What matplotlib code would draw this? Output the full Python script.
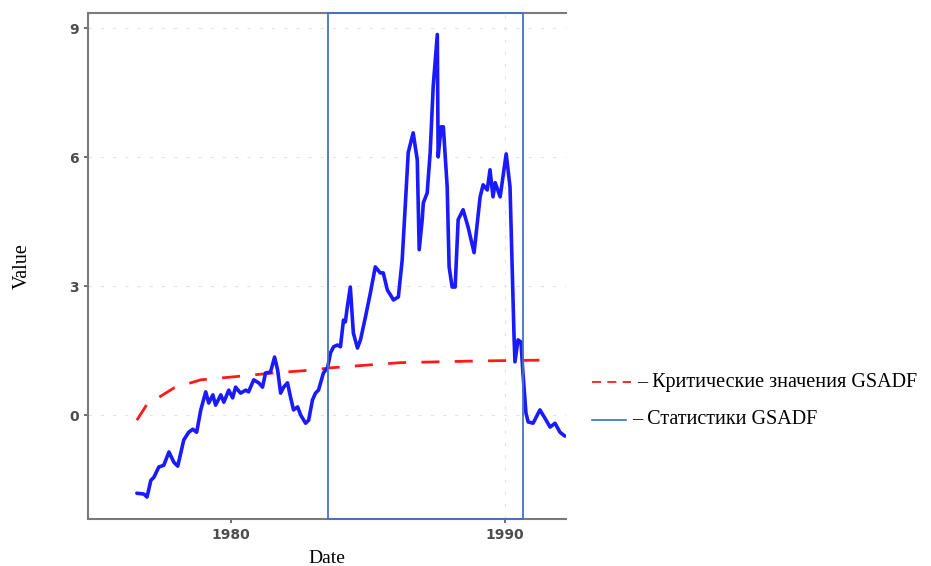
import numpy as np
import matplotlib
matplotlib.use('Agg')
import matplotlib.pyplot as plt
from matplotlib.lines import Line2D
from matplotlib.patches import Rectangle

#### data
stat_x = [1976.58, 1976.84, 1976.95, 1977.09, 1977.20, 1977.38, 1977.56, 1977.75, 1977.93, 1978.07,
          1978.29, 1978.47, 1978.62, 1978.76, 1978.91, 1979.09, 1979.20, 1979.35, 1979.45, 1979.64,
          1979.75, 1979.93, 1980.07, 1980.18, 1980.36, 1980.55, 1980.65, 1980.84, 1981.02, 1981.16,
          1981.27, 1981.45, 1981.60, 1981.71, 1981.82, 1981.93, 1982.07, 1982.18, 1982.29, 1982.44,
          1982.55, 1982.73, 1982.84, 1982.98, 1983.09, 1983.20, 1983.38, 1983.53, 1983.64, 1983.75,
          1983.89, 1984.00, 1984.11, 1984.18, 1984.25, 1984.36, 1984.47, 1984.62, 1984.73, 1984.91,
          1985.09, 1985.27, 1985.45, 1985.56, 1985.71, 1985.82, 1985.93, 1986.11, 1986.25, 1986.36,
          1986.47, 1986.65, 1986.80, 1986.87, 1986.98, 1987.02, 1987.16, 1987.27, 1987.38, 1987.53,
          1987.56, 1987.67, 1987.75, 1987.89, 1987.96, 1988.07, 1988.18, 1988.29, 1988.47, 1988.65,
          1988.87, 1989.09, 1989.20, 1989.35, 1989.45, 1989.56, 1989.64, 1989.82, 1990.04, 1990.18,
          1990.29, 1990.33, 1990.36, 1990.47, 1990.58, 1990.65, 1990.76, 1990.84, 1991.02, 1991.27,
          1991.45, 1991.64, 1991.82, 1992.00, 1992.18]
stat_y = [-1.82, -1.84, -1.91, -1.52, -1.45, -1.21, -1.17, -0.86, -1.10, -1.19,
          -0.58, -0.40, -0.33, -0.40, 0.12, 0.54, 0.28, 0.47, 0.23, 0.47,
          0.30, 0.58, 0.40, 0.65, 0.51, 0.58, 0.54, 0.82, 0.75, 0.65,
          0.98, 1.00, 1.35, 1.05, 0.51, 0.65, 0.75, 0.42, 0.12, 0.19,
          0.00, -0.19, -0.12, 0.35, 0.51, 0.58, 0.98, 1.10, 1.45, 1.59,
          1.63, 1.59, 2.21, 2.17, 2.52, 2.98, 1.91, 1.56, 1.75, 2.28,
          2.84, 3.45, 3.31, 3.31, 2.91, 2.80, 2.68, 2.75, 3.61, 4.85,
          6.11, 6.57, 5.94, 3.85, 4.55, 4.94, 5.17, 6.11, 7.65, 8.86,
          6.01, 6.71, 6.71, 5.31, 3.45, 2.98, 2.98, 4.55, 4.78, 4.38,
          3.78, 5.08, 5.36, 5.24, 5.71, 5.08, 5.41, 5.08, 6.08, 5.31,
          2.68, 1.75, 1.24, 1.75, 1.70, 0.98, 0.05, -0.16, -0.19, 0.12,
          -0.07, -0.28, -0.19, -0.40, -0.49]

crit_x = [1976.58, 1976.98, 1977.35, 1977.93, 1978.91, 1980.11, 1981.56, 1983.02, 1983.64,
          1986.18, 1989.09, 1991.53]
crit_y = [-0.12, 0.28, 0.40, 0.63, 0.82, 0.89, 0.98, 1.05, 1.10, 1.22, 1.26, 1.28]

bubble = (1983.53, 1990.65)   # box around the bubble period
yticks = [0, 3, 6, 9]
xticks = [1980, 1990]
legend_labels = ['– Критические значения GSADF', '– Статистики GSADF']

serif = ['Liberation Serif', 'DejaVu Serif']

fig = plt.figure(figsize=(9.31, 5.66), dpi=100)
ax = fig.add_axes([88/931, 47/566, (566-88)/931, (519-13)/566])

ax.plot(crit_x, crit_y, color='#ff1a1a', lw=2.0, dashes=(6.5, 5.5))
ax.plot(stat_x, stat_y, color='#1a1aff', lw=2.6, solid_joinstyle='round', solid_capstyle='round')

ax.set_xlim(1974.8, 1992.22)
ax.set_ylim(-2.42, 9.36)

ylo, yhi = ax.get_ylim()
ax.add_patch(Rectangle((bubble[0], ylo), bubble[1]-bubble[0], yhi-ylo,
                       fill=False, edgecolor='#4472c4', lw=1.3, zorder=5, clip_on=False))

# faint grid
for yt in yticks:
  ax.axhline(yt, color='#e4e4e4', lw=0.8, dashes=(3, 8), zorder=0)
ax.axvline(1990, color='#e4e4e4', lw=0.8, dashes=(3, 8), zorder=0)

ax.set_xticks(xticks)
ax.set_yticks(yticks)
ax.tick_params(direction='out', length=3, width=1.2, color='#555555',
               labelcolor='#4d4d4d', labelsize=10)
for lab in ax.get_xticklabels() + ax.get_yticklabels():
  lab.set_fontweight('bold')

for s in ['left', 'bottom', 'top']:
  ax.spines[s].set_color('#7a7a7a')
  ax.spines[s].set_linewidth(1.5)
ax.spines['right'].set_visible(False)

ax.set_xlabel('Date', family=serif, fontsize=14, labelpad=6)
ax.set_ylabel('Value', family=serif, fontsize=14.5, labelpad=27)

# legend drawn beside the plot
fig.add_artist(Line2D([592/931, 631/931], [1-382/566]*2, color='#ff1a1a', lw=1.3, dashes=(5, 3.5)))
fig.add_artist(Line2D([592/931, 626/931], [1-420/566]*2, color='#2e6fd0', lw=1.2))
fig.text(637/931, 1-382/566, legend_labels[0], family=serif, fontsize=14.5, va='center', ha='left')
fig.text(632/931, 1-420/566, legend_labels[1], family=serif, fontsize=14.5, va='center', ha='left')

fig.savefig('out.png', dpi=100)
